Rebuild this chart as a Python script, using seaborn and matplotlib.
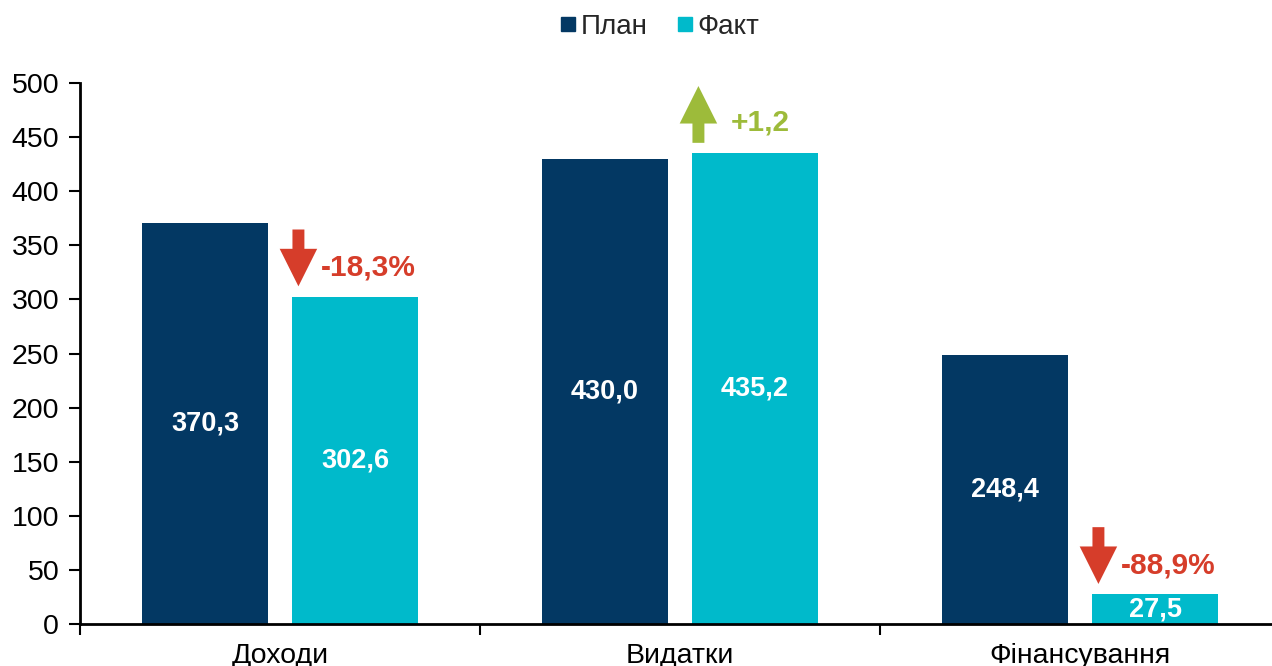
import matplotlib
matplotlib.use("Agg")
import matplotlib.pyplot as plt
from matplotlib.lines import Line2D
import seaborn as sns
import pandas as pd

categories = ["Доходи", "Видатки", "Фінансування"]
series_names = ["План", "Факт"]
plan_values = [370.3, 430.0, 248.4]
fact_values = [302.6, 435.2, 27.5]
change_labels = ["-18,3%", "+1,2", "-88,9%"]
change_up = [False, True, False]
y_ticks = [0, 50, 100, 150, 200, 250, 300, 350, 400, 450, 500]

plan_color = "#033863"
fact_color = "#00BACB"
red = "#D63D2A"
green = "#9DBB3A"

sns.set_theme(style="white")
plt.rcParams['font.family'] = ['Liberation Sans', 'DejaVu Sans']

df = pd.DataFrame({
    "cat": categories * 2,
    "series": [series_names[0]] * 3 + [series_names[1]] * 3,
    "value": plan_values + fact_values,
})

fig = plt.figure(figsize=(12.72, 6.66), dpi=100)
ax = fig.add_axes([80 / 1272, 42 / 666, 1200 / 1272, 541 / 666])

sns.barplot(data=df, x="cat", y="value", hue="series", order=categories,
            hue_order=series_names, palette=[plan_color, fact_color],
            width=0.75, gap=0.155, legend=False, ax=ax, saturation=1,
            linewidth=0)

for cont in ax.containers:
    ax.bar_label(cont, labels=[f"{v:.1f}".replace('.', ',') for v in cont.datavalues],
                 label_type='center', color='white', fontsize=19.5, fontweight='bold')

# change annotations
fact_cont = ax.containers[1]
for i, (bar, lab, up) in enumerate(zip(fact_cont, change_labels, change_up)):
    v = bar.get_height()
    x_arrow = bar.get_x() + 0.017
    col = green if up else red
    low = v + 9.5
    high = v + 62
    if up:
        xy, xyt = (x_arrow, high), (x_arrow, low)
        tx = x_arrow + 0.082
        ty = (low + high) / 2 - 7
    else:
        xy, xyt = (x_arrow, low), (x_arrow, high)
        tx = x_arrow + 0.057
        ty = (low + high) / 2 - 9
    ax.annotate('', xy=xy, xytext=xyt,
                arrowprops=dict(arrowstyle='simple,head_length=27,head_width=27,tail_width=8.6',
                                mutation_scale=1, shrinkA=0, shrinkB=0,
                                color=col, lw=0))
    ax.text(tx, ty, lab, color=col,
            fontsize=21.5, fontweight='bold', va='center', ha='left')

ax.set_xlim(-0.5, 2.5)
ax.set_ylim(0, 500)
ax.set_yticks(y_ticks)
ax.set_yticklabels([str(t) for t in y_ticks], fontsize=20.5, color='black')
ax.set_xticks([-0.5, 0.5, 1.5, 2.5])
ax.set_xticklabels([])
ax.set_xticks([0, 1, 2], minor=True)
ax.set_xticklabels(categories, minor=True, fontsize=20.5, color='black')
ax.tick_params(axis='x', which='minor', length=0, pad=14)
ax.tick_params(axis='x', which='major', direction='out', length=8, width=1.5, color='black', bottom=True)
ax.tick_params(axis='y', direction='out', length=8, width=1.5, color='black', pad=7, left=True)
ax.set_xlabel("")
ax.set_ylabel("")

for s in ['top', 'right']:
    ax.spines[s].set_visible(False)
for s in ['left', 'bottom']:
    ax.spines[s].set_color('black')
    ax.spines[s].set_linewidth(2)

handles = [Line2D([0], [0], marker='s', linestyle='none', markersize=10,
                  markerfacecolor=c, markeredgecolor=c) for c in [plan_color, fact_color]]
fig.legend(handles, series_names, loc='center', bbox_to_anchor=(659 / 1272, 1 - 27 / 666),
           ncol=2, frameon=False, fontsize=20, handletextpad=0.1, columnspacing=1.0,
           handlelength=0.7)

fig.savefig("out.png", dpi=100)
